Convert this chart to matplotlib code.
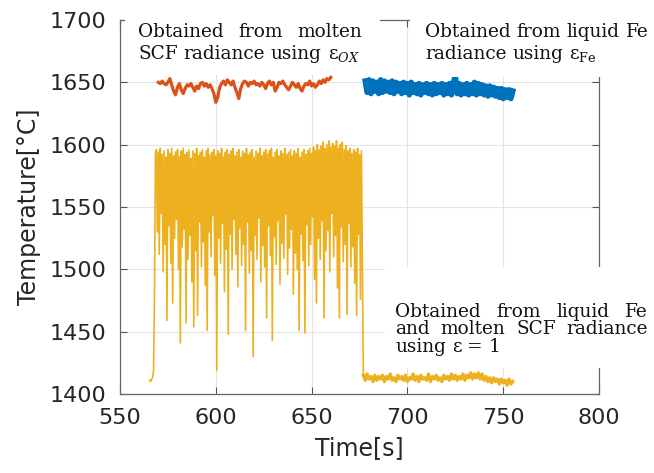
import numpy as np
import matplotlib
matplotlib.use('Agg')
import matplotlib.pyplot as plt
from matplotlib.patches import Rectangle

plt.rcParams['mathtext.fontset'] = 'dejavuserif'

# ---- orange: molten SCF, eps_ox (1 s steps)
ox_t = np.arange(570, 661)
ox_v = [1650, 1649, 1651, 1649, 1648, 1650, 1653, 1648, 1643, 1640,
        1646, 1649, 1644, 1641, 1645, 1648, 1647, 1649, 1646, 1643,
        1647, 1645, 1649, 1650, 1647, 1649, 1646, 1648, 1645, 1641,
        1634, 1638, 1646, 1649, 1651, 1648, 1652, 1650, 1648, 1651,
        1646, 1642, 1637, 1645, 1649, 1651, 1650, 1647, 1650, 1649,
        1651, 1648, 1649, 1647, 1650, 1648, 1645, 1649, 1651, 1648,
        1650, 1643, 1646, 1650, 1649, 1651, 1648, 1646, 1644, 1647,
        1650, 1648, 1646, 1649, 1645, 1643, 1647, 1649, 1648, 1651,
        1647, 1649, 1646, 1648, 1651, 1649, 1652, 1650, 1653, 1652,
        1654]

# ---- blue: liquid Fe, eps_Fe
fe_t = np.arange(678, 756)
fe_v = [1651, 1642, 1652, 1641, 1651, 1643, 1650, 1641, 1652, 1642,
        1651, 1643, 1650, 1642, 1651, 1641, 1650, 1643, 1649, 1641,
        1650, 1642, 1649, 1640, 1650, 1642, 1648, 1641, 1649, 1640,
        1648, 1642, 1649, 1641, 1648, 1640, 1649, 1641, 1648, 1642,
        1649, 1640, 1648, 1641, 1649, 1640, 1650, 1655, 1641, 1649,
        1640, 1648, 1641, 1649, 1640, 1648, 1641, 1650, 1640, 1649,
        1641, 1648, 1640, 1647, 1639, 1647, 1640, 1646, 1639, 1645,
        1638, 1645, 1637, 1644, 1638, 1644, 1637, 1643]

# ---- yellow: eps = 1
y_start_t = [565.5, 566, 566.5, 567, 567.5, 568, 568.5]
y_start_v = [1411, 1410, 1412, 1413, 1418, 1480, 1592]

peak_t = np.arange(569, 677)
peak_v = [1596, 1594, 1597, 1592, 1595, 1590, 1596, 1593, 1597, 1591,
          1594, 1596, 1590, 1595, 1597, 1592, 1594, 1596, 1589, 1595,
          1593, 1597, 1591, 1594, 1596, 1590, 1595, 1597, 1592, 1594,
          1596, 1591, 1595, 1593, 1597, 1590, 1594, 1596, 1592, 1595,
          1597, 1591, 1594, 1596, 1590, 1595, 1593, 1597, 1592, 1594,
          1596, 1590, 1595, 1593, 1597, 1591, 1594, 1596, 1592, 1595,
          1597, 1590, 1594, 1596, 1591, 1595, 1593, 1597, 1592, 1594,
          1596, 1591, 1595, 1593, 1597, 1590, 1594, 1596, 1592, 1595,
          1597, 1593, 1598, 1595, 1600, 1596, 1599, 1602, 1597, 1600,
          1603, 1598, 1601, 1599, 1603, 1597, 1600, 1602, 1596, 1599,
          1595, 1597, 1593, 1596, 1594, 1597, 1592, 1595]

trough_t = np.arange(569.5, 676)
trough_v = [1530, 1512, 1545, 1498, 1520, 1459, 1535, 1505, 1473, 1525,
            1540, 1500, 1441, 1518, 1532, 1457, 1508, 1527, 1490, 1454,
            1515, 1463, 1538, 1502, 1522, 1487, 1451, 1530, 1510, 1543,
            1495, 1419, 1525, 1505, 1537, 1482, 1516, 1448, 1528, 1500,
            1540, 1512, 1486, 1533, 1503, 1520, 1451, 1538, 1497, 1515,
            1430, 1527, 1508, 1541, 1490, 1519, 1502, 1461, 1535, 1511,
            1443, 1526, 1504, 1539, 1488, 1521, 1509, 1544, 1496, 1517,
            1532, 1480, 1513, 1500, 1451, 1528, 1507, 1449, 1536, 1503,
            1520, 1542, 1492, 1473, 1525, 1508, 1539, 1461, 1515, 1531,
            1498, 1545, 1510, 1527, 1485, 1461, 1534, 1506, 1520, 1464,
            1537, 1502, 1518, 1489, 1463, 1528, 1476]

tail_t = np.arange(677, 756)
tail_v = [1415, 1411, 1416, 1412, 1414, 1410, 1415, 1411, 1414, 1412,
          1415, 1410, 1414, 1412, 1416, 1411, 1413, 1410, 1415, 1412,
          1414, 1411, 1415, 1410, 1413, 1412, 1416, 1411, 1414, 1410,
          1415, 1412, 1413, 1411, 1416, 1410, 1414, 1412, 1415, 1411,
          1413, 1410, 1415, 1412, 1414, 1411, 1416, 1412, 1415, 1411,
          1414, 1412, 1416, 1411, 1415, 1413, 1417, 1412, 1416, 1413,
          1417, 1412, 1416, 1411, 1414, 1410, 1413, 1409, 1413, 1410,
          1412, 1408, 1412, 1409, 1411, 1407, 1412, 1408, 1410]

band_t = np.empty(len(peak_t) + len(trough_t))
band_v = np.empty(len(peak_t) + len(trough_t))
band_t[0::2], band_t[1::2] = peak_t, trough_t
band_v[0::2], band_v[1::2] = peak_v, trough_v

yel_t = np.concatenate([y_start_t, band_t, tail_t[:1]])
yel_v = np.concatenate([y_start_v, band_v, tail_v[:1]])

W, H = 654, 473
fig = plt.figure(figsize=(W / 100, H / 100), dpi=100)
ax = fig.add_axes([120 / W, 1 - 394 / H, 479 / W, 374 / H])

ax.plot(yel_t, yel_v, color='#EDB120', lw=1.2)
ax.plot(tail_t, tail_v, color='#EDB120', lw=2.4)
ax.plot(ox_t, ox_v, color='#D95319', lw=2.3)
ax.plot(fe_t, fe_v, color='#0072BD', lw=4)

ax.set_xlim(550, 800)
ax.set_ylim(1400, 1700)
ax.set_xticks([550, 600, 650, 700, 750, 800])
ax.set_yticks([1400, 1450, 1500, 1550, 1600, 1650, 1700])
ax.grid(True, color='#e4e4e4', lw=0.8)
ax.set_axisbelow(True)
ax.tick_params(direction='in', top=True, right=True, length=5, width=0.8,
               color='#555555', labelsize=16, labelcolor='#262626', pad=10)
for s in ax.spines.values():
    s.set_color('#666666')
    s.set_linewidth(0.9)
ax.set_xlabel('Time[s]', fontsize=17, color='#262626', labelpad=6)
ax.set_ylabel('Temperature[°C]', fontsize=17, color='#262626', labelpad=6)

# white label boxes covering part of the frame
for x0, y0, x1, y1 in [(125, 0, 380, 75), (410, 0, 654, 77), (385, 267, 654, 368)]:
    fig.add_artist(Rectangle((x0 / W, 1 - y1 / H), (x1 - x0) / W, (y1 - y0) / H,
                             transform=fig.transFigure, facecolor='white',
                             edgecolor='none', zorder=5))

rend = fig.canvas.get_renderer()


def put_line(words, x0, y, x1=None, size=13.3):
    arts = [fig.text(0, 0, w, fontsize=size, family='DejaVu Serif',
                     va='baseline', ha='left', color='#111111', zorder=6)
            for w in words]
    widths = [a.get_window_extent(rend).width for a in arts]
    if x1 is None or len(words) == 1:
        gap = 0.318 * size * 100 / 72
    else:
        gap = (x1 - x0 - sum(widths)) / (len(words) - 1)
    x = x0
    for a, w in zip(arts, widths):
        a.set_position((x / W, 1 - y / H))
        x += w + gap


put_line(['Obtained', 'from', 'molten'], 138, 37, 362)
put_line(['SCF', 'radiance', 'using', 'ε$_{OX}$'], 138, 59)
put_line(['Obtained', 'from', 'liquid', 'Fe'], 425, 37)
put_line(['radiance', 'using', 'ε$_{\\mathrm{Fe}}$'], 425, 59)
put_line(['Obtained', 'from', 'liquid', 'Fe'], 395, 317, 648)
put_line(['and', 'molten', 'SCF', 'radiance'], 395, 334, 648)
put_line(['using', 'ε', '=', '1'], 395, 352)

fig.savefig('out.png', dpi=100)
